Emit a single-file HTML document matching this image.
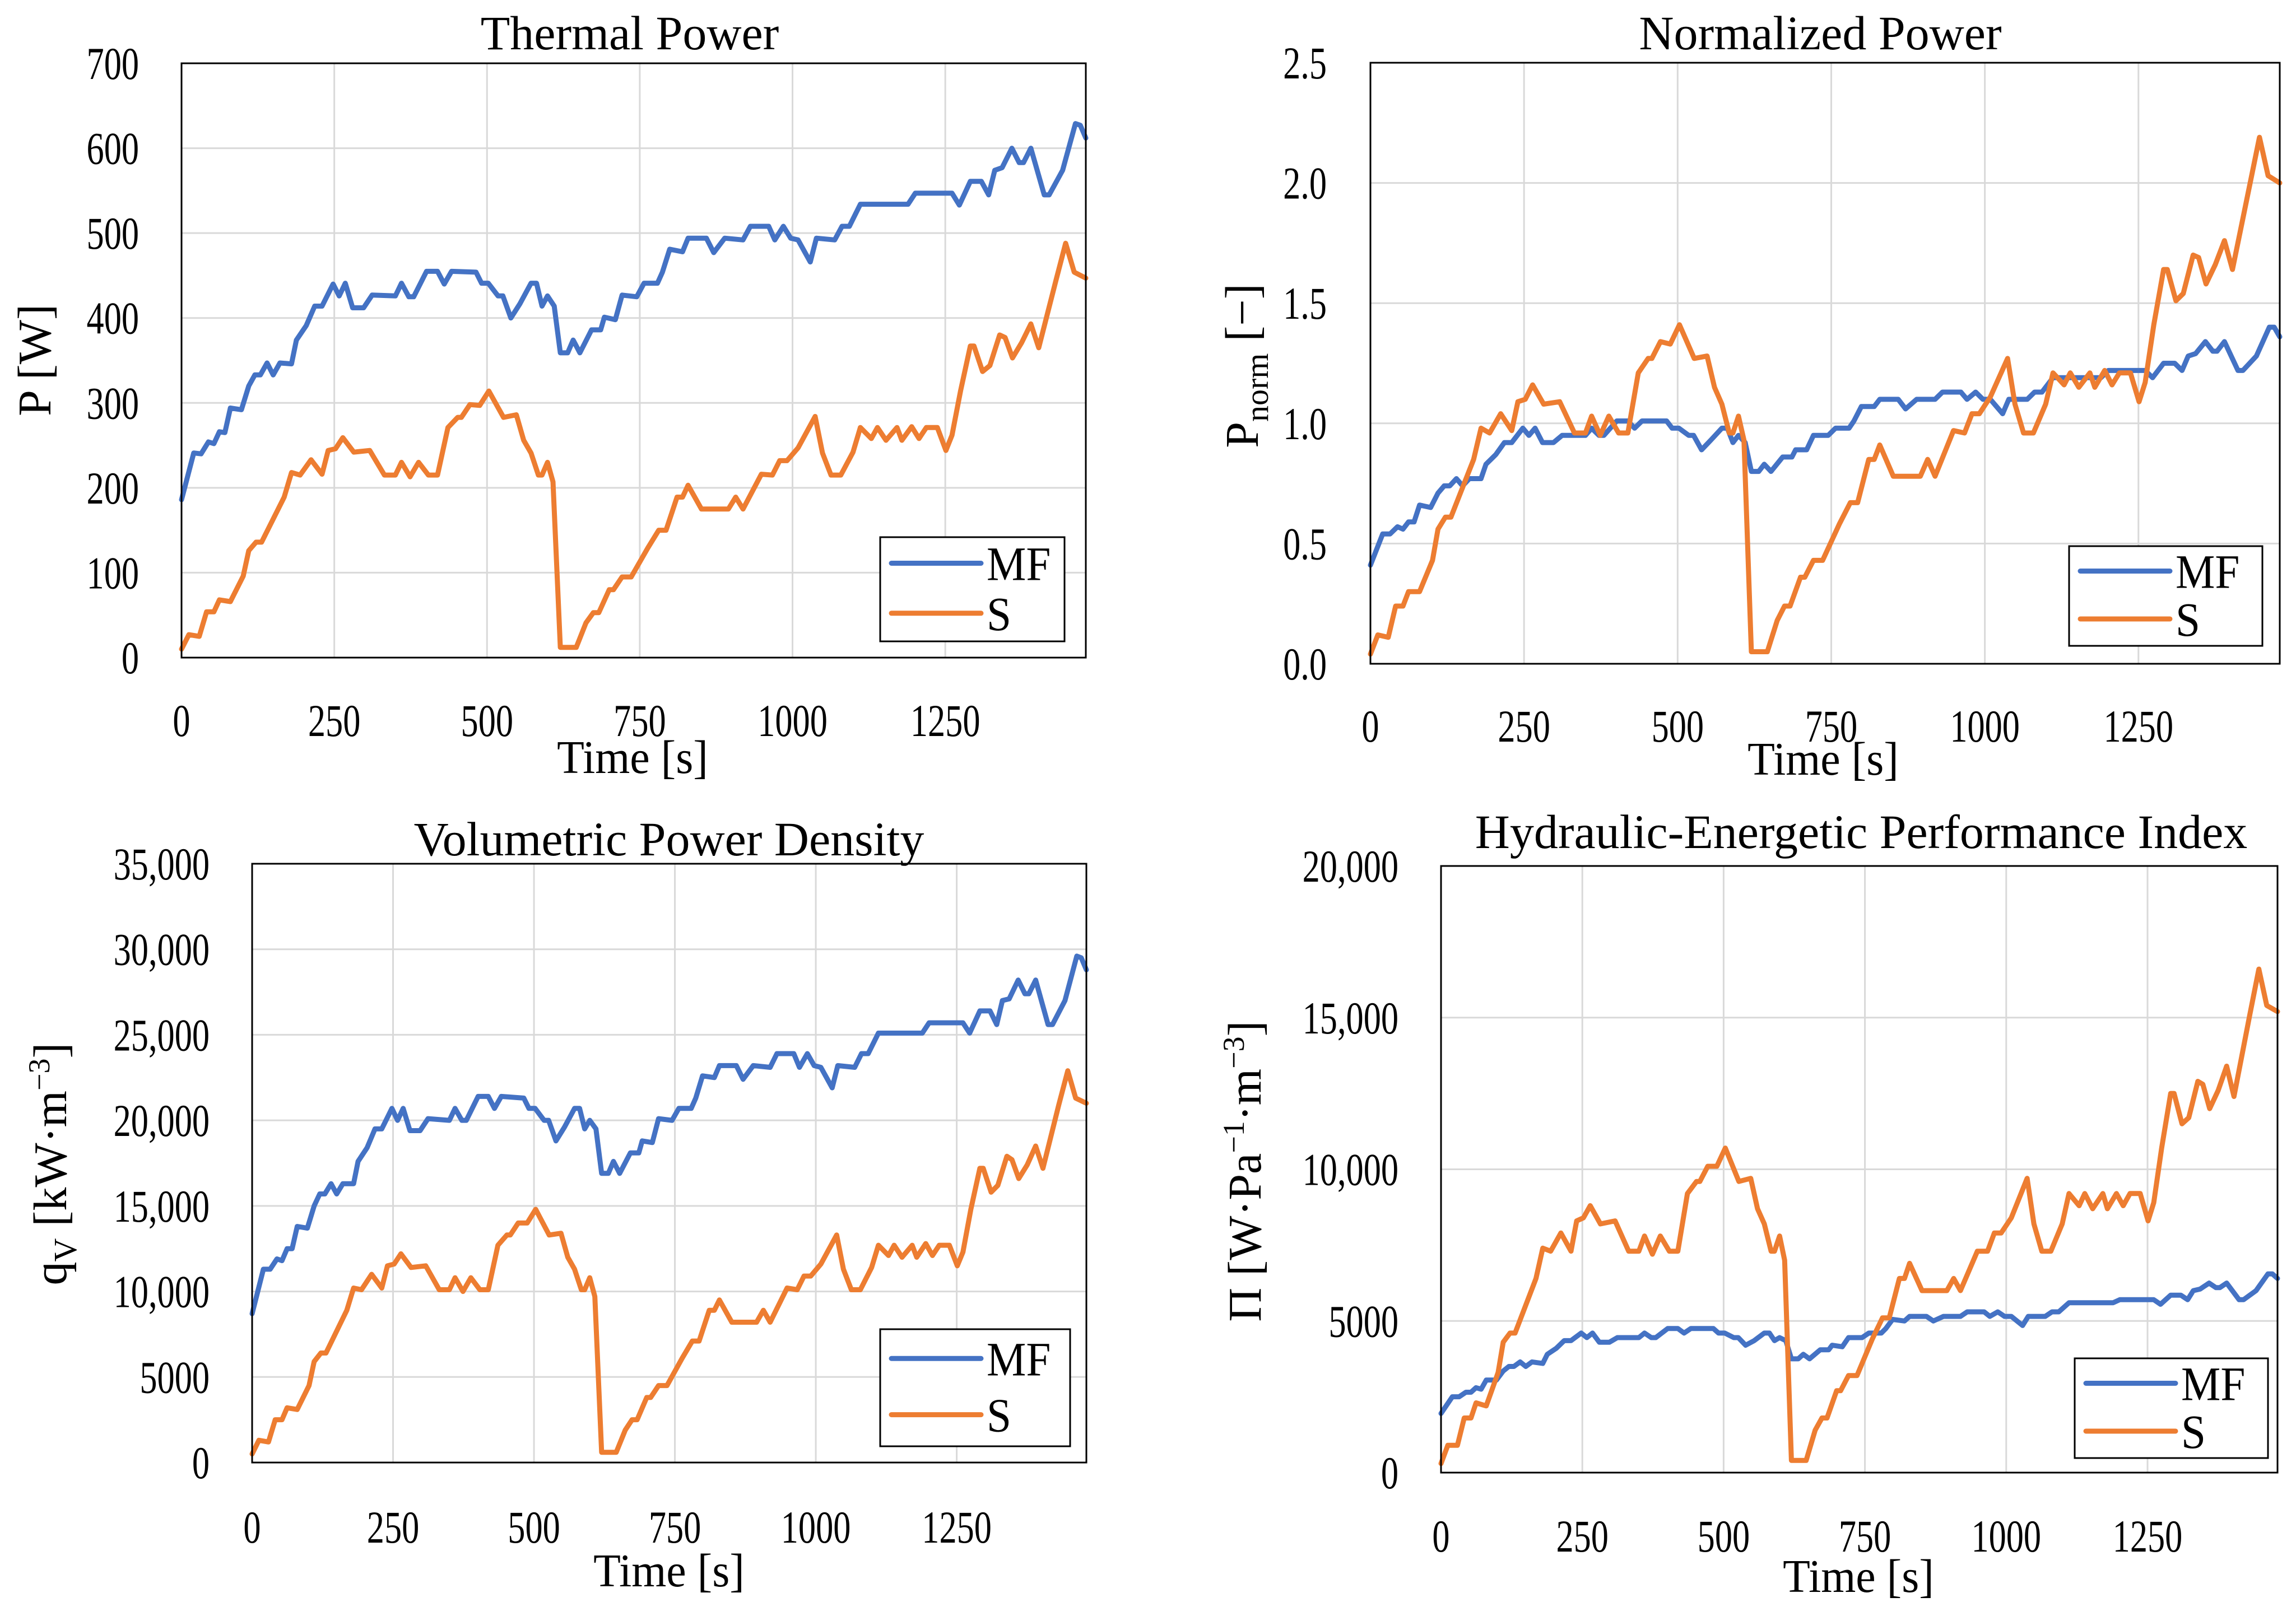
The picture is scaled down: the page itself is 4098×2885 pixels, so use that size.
<!DOCTYPE html>
<html><head><meta charset="utf-8"><style>
html,body{margin:0;padding:0;background:#fff;}
svg{display:block;font-family:"Liberation Serif",serif;}
</style></head>
<body>
<svg id="fig" width="4098" height="2885" viewBox="0 0 4098 2885" xmlns="http://www.w3.org/2000/svg"></svg>
<script>
// ---- shared time arrays ----
const tMF = [0,20,32,44,53,62,71,80,98,110,120,129,140,150,161,180,188,204,218,230,248,258,268,280,298,312,350,360,372,380,401,419,430,442,482,491,502,518,526,539,554,572,581,590,599,610,620,632,641,652,671,686,692,710,721,745,757,779,787,799,820,829,859,871,889,919,931,961,971,985,997,1009,1029,1039,1069,1081,1093,1111,1189,1201,1261,1273,1291,1309,1321,1331,1343,1359,1371,1378,1390,1412,1420,1442,1463,1471,1480];
const tS = [0,12,29,41,53,62,80,101,110,122,131,168,180,194,212,230,240,252,264,282,308,332,350,360,374,388,404,419,436,452,458,472,488,503,527,548,560,572,584,590,599,608,620,646,662,674,683,700,707,721,736,763,781,793,811,820,829,851,895,907,919,949,967,979,991,1009,1037,1049,1063,1079,1099,1111,1129,1139,1153,1171,1179,1195,1207,1219,1237,1251,1261,1275,1291,1297,1311,1323,1339,1348,1360,1375,1390,1403,1431,1447,1461,1480];

// ---- Thermal Power [W] ----
const powerMF = [186,241,240,254,252,266,265,294,292,320,333,333,347,333,347,346,374,391,414,414,440,426,441,412,412,427,426,441,425,425,455,455,440,455,454,441,441,426,426,400,417,441,441,414,426,414,359,359,374,359,386,386,401,398,427,425,441,441,454,481,478,494,494,477,494,492,508,508,492,508,494,492,466,494,492,508,508,534,534,547,547,533,561,561,545,574,577,600,583,583,600,545,545,574,629,627,612];
const powerS = [10,27,25,54,54,68,66,96,126,136,136,189,218,215,233,216,244,246,259,242,244,215,215,230,213,230,215,215,271,283,283,298,297,314,283,286,256,241,215,215,230,207,12,12,41,53,53,80,80,95,95,129,150,150,189,189,203,175,175,189,175,216,215,232,232,247,284,241,215,215,242,271,258,271,256,271,256,272,258,271,271,244,262,314,367,367,337,344,380,377,353,371,393,365,444,488,454,447];

// ---- Normalized Power [-] ----
const normMF = [.41,.54,.54,.57,.56,.59,.59,.66,.65,.71,.74,.74,.77,.74,.77,.77,.83,.87,.92,.92,.98,.95,.98,.92,.92,.95,.95,.98,.95,.95,1.01,1.01,.98,1.01,1.01,.98,.98,.95,.95,.89,.93,.98,.98,.92,.95,.92,.80,.80,.83,.80,.86,.86,.89,.89,.95,.95,.98,.98,1.01,1.07,1.07,1.10,1.10,1.06,1.10,1.10,1.13,1.13,1.10,1.13,1.10,1.10,1.04,1.10,1.10,1.13,1.13,1.19,1.19,1.22,1.22,1.19,1.25,1.25,1.22,1.28,1.29,1.34,1.30,1.30,1.34,1.22,1.22,1.28,1.40,1.40,1.36];
const normS = [.04,.12,.11,.24,.24,.30,.30,.43,.56,.61,.61,.85,.98,.96,1.04,.97,1.09,1.10,1.16,1.08,1.09,.96,.96,1.03,.95,1.03,.96,.96,1.21,1.27,1.27,1.34,1.33,1.41,1.27,1.28,1.15,1.08,.96,.96,1.03,.93,.05,.05,.18,.24,.24,.36,.36,.43,.43,.58,.67,.67,.85,.85,.91,.78,.78,.85,.78,.97,.96,1.04,1.04,1.11,1.27,1.08,.96,.96,1.08,1.21,1.16,1.21,1.15,1.21,1.15,1.22,1.16,1.21,1.21,1.09,1.17,1.41,1.64,1.64,1.51,1.54,1.70,1.69,1.58,1.66,1.76,1.64,1.99,2.19,2.03,2.00];

// ---- Volumetric Power Density [kW m-3] ----
const qvMF = [8700,11300,11300,11900,11800,12500,12500,13800,13700,15000,15700,15700,16300,15700,16300,16300,17600,18400,19500,19500,20700,20000,20700,19400,19400,20100,20000,20700,20000,20000,21400,21400,20700,21400,21300,20700,20700,20000,20000,18800,19600,20700,20700,19500,20000,19500,16900,16900,17600,16900,18100,18100,18800,18700,20100,20000,20700,20700,21300,22600,22500,23200,23200,22400,23200,23100,23900,23900,23100,23900,23200,23100,21900,23200,23100,23900,23900,25100,25100,25700,25700,25100,26400,26400,25600,27000,27100,28200,27400,27400,28200,25600,25600,27000,29600,29500,28800];
const qvS = [500,1300,1200,2500,2500,3200,3100,4500,5900,6400,6400,8900,10200,10100,11000,10200,11500,11600,12200,11400,11500,10100,10100,10800,10000,10800,10100,10100,12700,13300,13300,14000,14000,14800,13300,13400,12000,11300,10100,10100,10800,9700,600,600,1900,2500,2500,3800,3800,4500,4500,6100,7100,7100,8900,8900,9500,8200,8200,8900,8200,10200,10100,10900,10900,11600,13300,11300,10100,10100,11400,12700,12100,12700,12000,12700,12000,12800,12100,12700,12700,11500,12300,14800,17200,17200,15800,16200,17900,17700,16600,17400,18500,17200,20900,22900,21300,21000];

// ---- Hydraulic-Energetic Performance Index ----
const piMF = [1950,2500,2500,2650,2650,2800,2750,3050,3050,3350,3500,3500,3650,3500,3650,3600,3900,4100,4350,4350,4600,4450,4600,4300,4300,4450,4450,4600,4450,4450,4750,4750,4600,4750,4750,4600,4600,4450,4450,4200,4350,4600,4600,4350,4450,4350,3750,3750,3900,3750,4050,4050,4200,4150,4450,4450,4600,4600,4750,5050,5000,5150,5150,5000,5150,5150,5300,5300,5150,5300,5150,5150,4850,5150,5150,5300,5300,5600,5600,5700,5700,5550,5850,5850,5700,6000,6050,6250,6100,6100,6250,5700,5700,6000,6550,6550,6400];
const piS = [300,900,900,1800,1800,2300,2200,3300,4300,4600,4600,6400,7400,7300,7900,7300,8300,8400,8800,8200,8300,7300,7300,7800,7200,7800,7300,7300,9200,9600,9600,10100,10100,10700,9600,9700,8700,8200,7300,7300,7800,7000,400,400,1400,1800,1800,2700,2700,3200,3200,4400,5100,5100,6400,6400,6900,6000,6000,6400,6000,7300,7300,7900,7900,8400,9700,8200,7300,7300,8200,9200,8800,9200,8700,9200,8700,9200,8800,9200,9200,8300,8900,10700,12500,12500,11500,11700,12900,12800,12000,12600,13400,12400,15100,16600,15400,15200];

// ---- tick label arrays ----
const xTicks = [0,250,500,750,1000,1250];
const yTicksP = ["0","100","200","300","400","500","600","700"];
const yTicksN = ["0.0","0.5","1.0","1.5","2.0","2.5"];
const yTicksQ = ["0","5000","10,000","15,000","20,000","25,000","30,000","35,000"];
const yTicksPi = ["0","5000","10,000","15,000","20,000"];

const NS = "http://www.w3.org/2000/svg";
const svg = document.getElementById('fig');
const BLUE = "#4472C4", ORANGE = "#ED7D31";
const XMAX = 1480;

function mk(tag, attrs, parent) {
  const e = document.createElementNS(NS, tag);
  for (const k in attrs) e.setAttribute(k, attrs[k]);
  (parent || svg).appendChild(e);
  return e;
}
function label(parent, x, y, str, size, anchor, sx) {
  const t = mk('text', {transform: `translate(${x},${y}) scale(${sx},1)`, 'font-size': size, 'text-anchor': anchor, fill: '#000'}, parent);
  t.textContent = str;
  return t;
}

function panel(cfg) {
  const g = mk('g', {});
  
  
  const {L, R, T, B, ymax, ystep} = cfg;
  const xs = v => L + (R - L) * v / XMAX;
  const ys = v => B - (B - T) * v / ymax;
  const grid = mk('g', {}, g);
  
  
  xTicks.forEach(v => { if (v > 0) mk('line', {x1: xs(v), x2: xs(v), y1: T, y2: B, stroke: '#d9d9d9', 'stroke-width': 3}, grid); });
  cfg.yTicks.forEach((s, i) => { if (i > 0) mk('line', {x1: L, x2: R, y1: ys(i * ystep), y2: ys(i * ystep), stroke: '#d9d9d9', 'stroke-width': 3}, grid); });
  cfg.series.forEach(s => {
    const d = s.t.map((t, i) => (i ? 'L' : 'M') + xs(t).toFixed(1) + ',' + ys(s.v[i]).toFixed(1)).join('');
    const p = mk('path', {d, fill: 'none', stroke: s.color, 'stroke-width': 9, 'stroke-linejoin': 'round', 'stroke-linecap': 'round'}, g);
    
    
  });
  const fr = mk('rect', {x: L, y: T, width: R - L, height: B - T, fill: 'none', stroke: '#000', 'stroke-width': 3}, g);
  
  
  const yt = mk('g', {}, g);
  
  
  cfg.yTicks.forEach((s, i) => label(yt, cfg.yLabR, ys(i * ystep) + 28, s, 82, 'end', 0.76));
  const xt = mk('g', {}, g);
  
  
  xTicks.forEach(v => label(xt, xs(v), cfg.xLabY, String(v), 82, 'middle', 0.76));
  const ti = label(g, cfg.titleX, cfg.titleY, cfg.title, 86, 'middle', 1);
  
  
  const xa = label(g, cfg.xtX, cfg.xtY, 'Time [s]', 84, 'middle', 0.95);
  
  
  const ya = mk('text', {transform: `translate(${cfg.ytX},${cfg.ytY}) rotate(-90)`, 'font-size': 84, 'text-anchor': 'middle', fill: '#000'}, g);
  
  
  ya.innerHTML = cfg.ytHTML;
  const lg = mk('g', {}, g);
  
  
  const [lx1, ly1, lx2, ly2] = cfg.leg;
  mk('rect', {x: lx1, y: ly1, width: lx2 - lx1, height: ly2 - ly1, fill: '#fff', stroke: '#000', 'stroke-width': 3}, lg);
  const h = ly2 - ly1;
  [[cfg.series[0], 0.25], [cfg.series[1], 0.73]].forEach(([s, f]) => {
    const yy = ly1 + h * f;
    const e = mk('g', {}, lg);
    
    
    mk('line', {x1: lx1 + 20, x2: lx1 + 180, y1: yy, y2: yy, stroke: s.color, 'stroke-width': 9, 'stroke-linecap': 'round'}, e);
    label(e, lx1 + 190, yy + 30, s.key, 86, 'start', 0.92);
  });
}

panel({name: 'thermal-power-chart', L: 324, R: 1938, T: 113, B: 1174, ymax: 700, ystep: 100, yTicks: yTicksP,
  yLabR: 248, xLabY: 1314, title: 'Thermal Power', titleX: 1124, titleY: 88, xtX: 1129, xtY: 1380,
  ytX: 90, ytY: 643, ytHTML: 'P [W]', leg: [1571, 959, 1900, 1145],
  series: [{name: 'series-mf', key: 'MF', color: BLUE, t: tMF, v: powerMF}, {name: 'series-s', key: 'S', color: ORANGE, t: tS, v: powerS}]});

panel({name: 'normalized-power-chart', L: 2446, R: 4069, T: 112, B: 1185, ymax: 2.5, ystep: 0.5, yTicks: yTicksN,
  yLabR: 2368, xLabY: 1324, title: 'Normalized Power', titleX: 3249, titleY: 88, xtX: 3254, xtY: 1383,
  ytX: 2245, ytY: 653, ytHTML: 'P<tspan font-size="58" dy="18">norm</tspan><tspan dy="-18"> [−]</tspan>', leg: [3693, 975, 4038, 1153],
  series: [{name: 'series-mf', key: 'MF', color: BLUE, t: tMF, v: normMF}, {name: 'series-s', key: 'S', color: ORANGE, t: tS, v: normS}]});

panel({name: 'volumetric-power-density-chart', L: 450, R: 1939, T: 1542, B: 2611, ymax: 35000, ystep: 5000, yTicks: yTicksQ,
  yLabR: 374, xLabY: 2754, title: 'Volumetric Power Density', titleX: 1194, titleY: 1527, xtX: 1194, xtY: 2832,
  ytX: 118, ytY: 2078, ytHTML: 'q<tspan font-size="58" dy="18">V</tspan><tspan dy="-18"> [kW·m</tspan><tspan font-size="54" dy="-30">−3</tspan><tspan dy="30">]</tspan>', leg: [1571, 2373, 1910, 2582],
  series: [{name: 'series-mf', key: 'MF', color: BLUE, t: tMF, v: qvMF}, {name: 'series-s', key: 'S', color: ORANGE, t: tS, v: qvS}]});

panel({name: 'hydraulic-energetic-index-chart', L: 2572, R: 4065, T: 1546, B: 2629, ymax: 20000, ystep: 5000, yTicks: yTicksPi,
  yLabR: 2496, xLabY: 2770, title: 'Hydraulic-Energetic Performance Index', titleX: 3322, titleY: 1514, xtX: 3317, xtY: 2842,
  ytX: 2250, ytY: 2091, ytHTML: 'Π [W·Pa<tspan font-size="54" dy="-30">−1</tspan><tspan dy="30">·m</tspan><tspan font-size="54" dy="-30">−3</tspan><tspan dy="30">]</tspan>', leg: [3703, 2425, 4048, 2603],
  series: [{name: 'series-mf', key: 'MF', color: BLUE, t: tMF, v: piMF}, {name: 'series-s', key: 'S', color: ORANGE, t: tS, v: piS}]});
</script>
</body></html>
